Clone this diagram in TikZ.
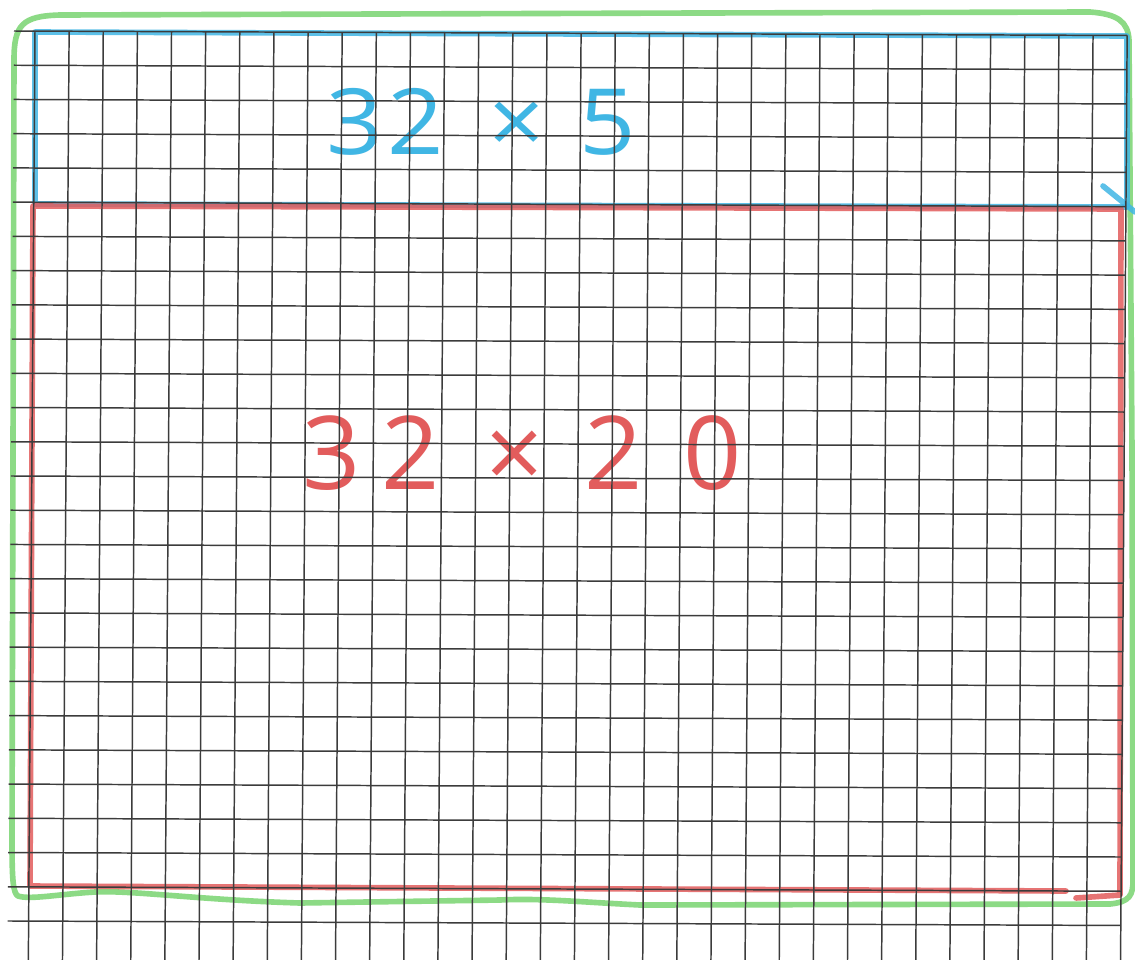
\documentclass[tikz,border=0pt]{standalone}
\usepackage{fontspec}
\setmainfont{Open Sans}
\definecolor{penblue}{RGB}{64,182,228}
\definecolor{penred}{RGB}{226,92,92}
\definecolor{pengreen}{RGB}{120,212,112}
\definecolor{gridink}{RGB}{60,60,60}
\begin{document}
\begin{tikzpicture}[x=0.05cm,y=-0.05cm,
  gridline/.style={gridink, line width=2.1pt},
  pen/.style={line width=8pt, line cap=round, line join=round, opacity=0.85},
  bluetext/.style={text=penblue, inner sep=0pt, xscale=1.08, font=\fontsize{130}{130}\selectfont},
  redtext/.style={text=penred, inner sep=0pt, font=\fontsize{145}{145}\selectfont}]
\useasboundingbox[fill=white] (0,0) rectangle (1135,959);
\clip (0,0) rectangle (1135,959);
% pen strokes
\draw[pengreen, pen] (12,840) -- (14,60) .. controls (14,25) and (22,16) .. (60,15)
  -- (700,13) -- (1090,12) .. controls (1118,14) and (1128,22) .. (1129,40)
  -- (1132,450) -- (1133,880) .. controls (1133,895) and (1130,902) .. (1110,904)
  -- (640,905) .. controls (580,902) and (540,898) .. (500,900)
  -- (300,903) .. controls (200,900) and (130,890) .. (95,892)
  .. controls (60,894) and (30,900) .. (18,896) .. controls (13,893) and (12,880) .. (12,840);
\draw[penblue, pen] (35,32) -- (1127,36) -- (1127,207) -- (35,204) -- cycle;
\draw[penblue, pen] (1103,186) -- (1135,212);
\draw[penred, pen] (1066,891) -- (30,886) -- (33,206) -- (1121,209) -- (1120,895) -- (1076,898);
% labels
\node[bluetext] (lblA) at (481,122) {3\hspace{0.05em}2\hspace{0.45em}×\hspace{0.35em}5};
\node[redtext] (lblB) at (522,453) {3\hspace{0.2em}2\hspace{0.45em}×\hspace{0.4em}2\hspace{0.4em}0};
% grid
\foreach \i in {0,...,32} {
  \pgfmathsetmacro\xt{35+34.13*\i}
  \pgfmathsetmacro\yt{31+0.14*\i}
  \pgfmathsetmacro\xb{\xt-0.245*28}
  \pgfmathsetmacro\yb{\yt+34.23*28}
  \draw[gridline] (\xt,\yt) -- (\xb,\yb);
}
\foreach \j in {0,...,26} {
  \pgfmathsetmacro\yl{31+34.23*\j}
  \pgfmathsetmacro\xl{14-0.245*\j}
  \pgfmathsetmacro\xr{35+34.13*32-0.245*\j}
  \pgfmathsetmacro\yr{\yl+0.14*32}
  \draw[gridline] (\xl,\yl) -- (\xr,\yr);
}
\end{tikzpicture}
\end{document}
